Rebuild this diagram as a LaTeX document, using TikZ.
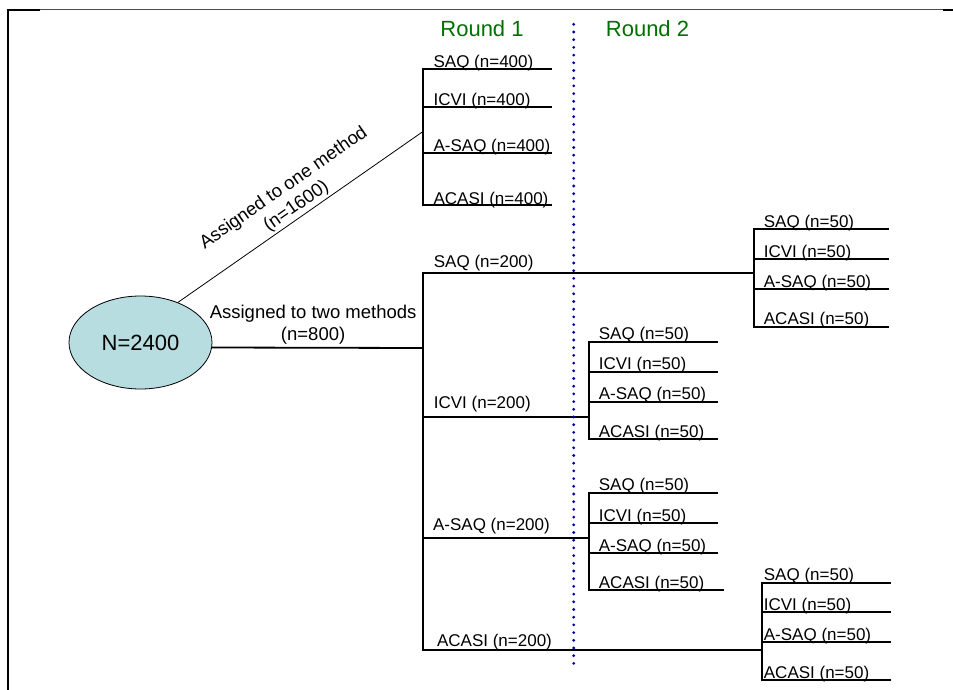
\documentclass[tikz,border=0pt]{standalone}
\usepackage{fontspec}
\setmainfont{Liberation Sans}
\usepackage{tikz}
\usetikzlibrary{shapes.geometric}

\definecolor{hdrgreen}{RGB}{0,112,0}
\definecolor{dotblue}{RGB}{0,0,160}
\definecolor{ovalblue}{RGB}{183,221,224}

\begin{document}
\begin{tikzpicture}[x=1pt, y=-1pt, every node/.style={inner sep=0pt}]
	\tikzstyle{arm}=[line width=1.8pt, line cap=rect]
	\tikzstyle{lbl}=[pos=0, anchor=base west, font=\fontsize{17}{20}\selectfont]
	\tikzstyle{hdr}=[anchor=base, text=hdrgreen, font=\fontsize{22}{26}\selectfont]
	\tikzstyle{asg}=[align=center, font=\fontsize{18.5}{22}\selectfont]
	
	\useasboundingbox (0,0) rectangle (953,690);
	
	% frame
	\draw[black!70, line width=1pt] (7,9.3) -- (953,9.3);
	\draw[line width=2pt] (40,10.5) -- (8,10.5) -- (8,690);
	\draw[line width=2pt] (943,10.5) -- (953,10.5);
	
	\node[hdr] (r1) at (482,36.7)   {Round 1};
	\node[hdr] (r2) at (647.5,36.7) {Round 2};
	
	\node[ellipse, draw, fill=ovalblue, line width=0.8pt, minimum width=143pt, minimum height=93pt,
	      font=\fontsize{22}{26}\selectfont] (N) at (140.5,342.5) {N=2400};
	
	\coordinate (one) at (422.7,131.7);
	\coordinate (two) at (422.7,348);
	
	% round 1, one method
	\coordinate (o1) at (422.7,69);  \coordinate (o1e) at (551,69);
	\coordinate (o2) at (422.7,107); \coordinate (o2e) at (551,107);
	\coordinate (o3) at (422.7,153); \coordinate (o3e) at (551,153);
	\coordinate (o4) at (422.7,205); \coordinate (o4e) at (551,205);
	
	% round 1, two methods
	\coordinate (m1) at (422.7,273);   \coordinate (m1e) at (754,273);
	\coordinate (m2) at (422.7,416.7); \coordinate (m2e) at (589,416.7);
	\coordinate (m3) at (422.7,537.7); \coordinate (m3e) at (589,537.7);
	\coordinate (m4) at (422.7,650);   \coordinate (m4e) at (762,650);
	
	% round 2 after SAQ
	\coordinate (s1) at (754,229.3); \coordinate (s1e) at (888.5,229.3);
	\coordinate (s2) at (754,259.3); \coordinate (s2e) at (888.5,259.3);
	\coordinate (s3) at (754,289);   \coordinate (s3e) at (888.5,289);
	\coordinate (s4) at (754,326.7); \coordinate (s4e) at (888.5,326.7);
	
	% round 2 after ICVI
	\coordinate (i1) at (589,341.7); \coordinate (i1e) at (716.7,341.7);
	\coordinate (i2) at (589,371.7); \coordinate (i2e) at (716.7,371.7);
	\coordinate (i3) at (589,401.7); \coordinate (i3e) at (716.7,401.7);
	\coordinate (i4) at (589,439.3); \coordinate (i4e) at (716.7,439.3);
	
	% round 2 after A-SAQ
	\coordinate (a1) at (589,492.7); \coordinate (a1e) at (716.7,492.7);
	\coordinate (a2) at (589,523);   \coordinate (a2e) at (716.7,523);
	\coordinate (a3) at (589,553);   \coordinate (a3e) at (716.7,553);
	\coordinate (a4) at (589,590);   \coordinate (a4e) at (723,590);
	
	% round 2 after ACASI
	\coordinate (c1) at (762,582.7); \coordinate (c1e) at (890,582.7);
	\coordinate (c2) at (762,612.3); \coordinate (c2e) at (890,612.3);
	\coordinate (c3) at (762,642.3); \coordinate (c3e) at (890,642.3);
	\coordinate (c4) at (762,680);   \coordinate (c4e) at (890,680);
	
	\path[line width=0.8pt]
	(N.47) edge node[asg, sloped, above=2pt, pos=0.51] (lone) {Assigned to one method\\(n=1600)} (one);
	
	\path[arm]
	(N.-4.4) edge node[asg, above=3pt, pos=0.48] (ltwo) {Assigned to two methods\\(n=800)} (two)
	
	(o1) edge (o4)
	(o1) edge node[lbl, xshift=10pt, yshift=1pt] (lo1) {SAQ (n=400)}   (o1e)
	(o2) edge node[lbl, xshift=10pt, yshift=1pt] (lo2) {ICVI (n=400)}  (o2e)
	(o3) edge node[lbl, xshift=10pt, yshift=1pt] (lo3) {A-SAQ (n=400)} (o3e)
	(o4) edge node[lbl, xshift=10pt, yshift=1pt] (lo4) {ACASI (n=400)} (o4e)
	
	(m1) edge (m4)
	(m1) edge node[lbl, xshift=10.3pt, yshift=6pt]   (lm1) {SAQ (n=200)}   (m1e)
	(m2) edge node[lbl, xshift=10.3pt, yshift=8.4pt] (lm2) {ICVI (n=200)}  (m2e)
	(m3) edge node[lbl, xshift=9.5pt,  yshift=7.7pt] (lm3) {A-SAQ (n=200)} (m3e)
	(m4) edge node[lbl, xshift=13.5pt, yshift=3.3pt] (lm4) {ACASI (n=200)} (m4e)
	
	(s1) edge (s4)
	(s1) edge node[lbl, xshift=9pt, yshift=2pt] (ls1) {SAQ (n=50)}   (s1e)
	(s2) edge node[lbl, xshift=9pt, yshift=2pt] (ls2) {ICVI (n=50)}  (s2e)
	(s3) edge node[lbl, xshift=9pt, yshift=2pt] (ls3) {A-SAQ (n=50)} (s3e)
	(s4) edge node[lbl, xshift=9pt, yshift=2pt] (ls4) {ACASI (n=50)} (s4e)
	
	(i1) edge (i4)
	(i1) edge node[lbl, xshift=9pt, yshift=2pt] (li1) {SAQ (n=50)}   (i1e)
	(i2) edge node[lbl, xshift=9pt, yshift=2pt] (li2) {ICVI (n=50)}  (i2e)
	(i3) edge node[lbl, xshift=9pt, yshift=2pt] (li3) {A-SAQ (n=50)} (i3e)
	(i4) edge node[lbl, xshift=9pt, yshift=2pt] (li4) {ACASI (n=50)} (i4e)
	
	(a1) edge (a4)
	(a1) edge node[lbl, xshift=9pt, yshift=2pt] (la1) {SAQ (n=50)}   (a1e)
	(a2) edge node[lbl, xshift=9pt, yshift=2pt] (la2) {ICVI (n=50)}  (a2e)
	(a3) edge node[lbl, xshift=9pt, yshift=2pt] (la3) {A-SAQ (n=50)} (a3e)
	(a4) edge node[lbl, xshift=9pt, yshift=2pt] (la4) {ACASI (n=50)} (a4e)
	
	(c1) edge (c4)
	(c1) edge node[lbl, xshift=1pt, yshift=2pt] (lc1) {SAQ (n=50)}   (c1e)
	(c2) edge node[lbl, xshift=1pt, yshift=2pt] (lc2) {ICVI (n=50)}  (c2e)
	(c3) edge node[lbl, xshift=1pt, yshift=2pt] (lc3) {A-SAQ (n=50)} (c3e)
	(c4) edge node[lbl, xshift=1pt, yshift=2pt] (lc4) {ACASI (n=50)} (c4e)
	;
	
	% divider between the rounds
	\coordinate (dtop) at (573.7,24.3);
	\coordinate (dbot) at (573.7,667);
	\draw[dotblue, line width=3.1pt, line cap=round, dash pattern=on 0pt off 7.7pt] (dtop) -- (dbot);
\end{tikzpicture}
\end{document}
